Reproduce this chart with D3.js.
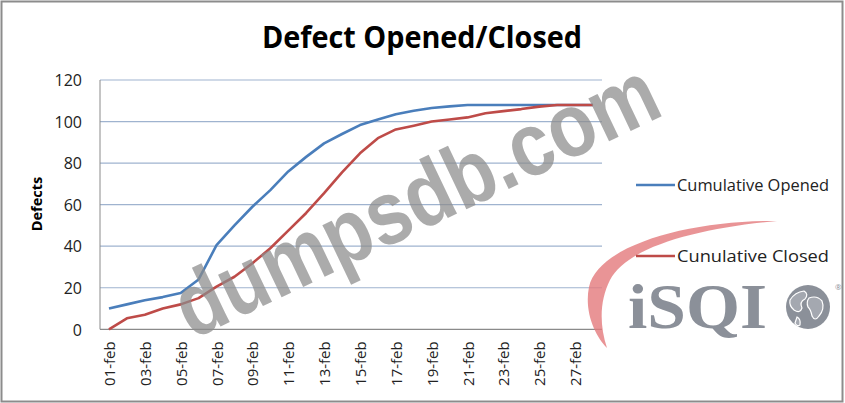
<!DOCTYPE html>
<html><head><meta charset="utf-8">
<script src="https://cdn.jsdelivr.net/npm/d3@7/dist/d3.min.js"></script>
<style>body{margin:0;background:#fff}svg{display:block}</style>
</head><body>
<svg id="c" width="845" height="403"></svg>
<script>
const categories = ["01-feb","02-feb","03-feb","04-feb","05-feb","06-feb","07-feb","08-feb","09-feb","10-feb","11-feb","12-feb","13-feb","14-feb","15-feb","16-feb","17-feb","18-feb","19-feb","20-feb","21-feb","22-feb","23-feb","24-feb","25-feb","26-feb","27-feb","28-feb"];
const opened = [10,12,14,15.5,17.5,24,40.5,50,59,67,76,83,89.5,94,98.3,101,103.5,105.2,106.5,107.3,108,108,108,108,108,108,108,108];
const closed = [0,5.3,7,10,12,15,20.5,25.3,31.8,39,47.5,56,65.5,75.5,84.7,92,96.2,98,100,101,102,104,105,106,107.2,108,108,108];
const yTicks = [0,20,40,60,80,100,120];
const seriesNames = ["Cumulative Opened","Cunulative Closed"];
const colors = ["#4A7EBB","#BE4B48"];

const svg = d3.select("#c");
const font = "'Open Sans', sans-serif";
// outer border
svg.append("rect").attr("x",1.5).attr("y",1.5).attr("width",841).attr("height",400)
  .attr("fill","#fff").attr("stroke","#8c8c8c").attr("stroke-width",2);

const L=100,R=602,T=80,B=329.3;
const x = d3.scaleBand().domain(categories).range([L,R]);
const y = d3.scaleLinear().domain([0,120]).range([B,T]);

// gridlines
svg.append("g").selectAll("line").data(yTicks.filter(d=>d>0)).join("line")
  .attr("x1",L).attr("x2",R).attr("y1",d=>y(d)).attr("y2",d=>y(d))
  .attr("stroke","#9fb3cf").attr("stroke-width",1.2);
// axes lines
svg.append("line").attr("x1",L).attr("x2",L).attr("y1",T).attr("y2",B).attr("stroke","#8a8a8a");
svg.append("line").attr("x1",L).attr("x2",R).attr("y1",B).attr("y2",B).attr("stroke","#8a8a8a").attr("stroke-width",1.2);

// y labels
const yAxis = d3.axisLeft(y).tickValues(yTicks).tickSize(0).tickPadding(0);
const gy = svg.append("g").attr("transform",`translate(${L-18},0)`).call(yAxis);
gy.select(".domain").remove();
gy.selectAll("text").attr("font-family",font).attr("font-size",16).attr("fill","#222").attr("dy","0.36em")
  .attr("transform","scale(1,1)");

// x labels
const xLabelCats = categories.filter((d,i)=>i%2===0);
const gx = svg.append("g").attr("transform",`translate(0,${B})`)
  .call(d3.axisBottom(x).tickValues(xLabelCats).tickSize(0).tickPadding(0));
gx.select(".domain").remove();
gx.selectAll("text").attr("font-family",font).attr("font-size",15).attr("fill","#222")
  .attr("text-anchor","end").attr("dy",null)
  .attr("transform","translate(0,12) rotate(-90)").attr("dominant-baseline","central");

// lines
const line = d3.line().x((d,i)=>x(categories[i])+x.bandwidth()/2).y(d=>y(d));
[opened,closed].forEach((s,k)=>{
  svg.append("path").datum(s).attr("d",line).attr("fill","none")
    .attr("stroke",colors[k]).attr("stroke-width",2.6).attr("stroke-linejoin","round");
});

// title
svg.append("text").attr("x",422).attr("y",48).attr("text-anchor","middle")
  .attr("font-family",font).attr("font-weight","bold").attr("font-size",30)
  .attr("textLength",320).attr("lengthAdjust","spacingAndGlyphs").attr("fill","#000")
  .text("Defect Opened/Closed");
// y title
svg.append("text").attr("transform","translate(42,204) rotate(-90)").attr("text-anchor","middle")
  .attr("font-family",font).attr("font-weight","bold").attr("font-size",14.5).attr("fill","#000")
  .text("Defects");

// iSQI logo watermark (decorative)
const logo = svg.append("g");
logo.append("path")
  .attr("d","M777,221 C690,220 598,245 589,287 C584,312 595,336 607,348 C599,324 600,300 610,280 C628,246 700,228 777,221 Z")
  .attr("fill","#e3797c").attr("opacity",0.8);
logo.append("text").attr("x",628).attr("y",328).attr("font-family","'Liberation Serif', serif")
  .attr("font-weight","bold").attr("font-size",64).attr("textLength",139).attr("lengthAdjust","spacingAndGlyphs")
  .attr("fill","#8b9099").text("iSQI");
logo.append("circle").attr("cx",808).attr("cy",307).attr("r",22).attr("fill","#8b9099");
logo.append("path").attr("d","M790,300 q5,-8 14,-9 q5,3 1,8 q-6,3 -3,9 q-2,6 -8,2 q-5,-4 -4,-10 Z M809,298 q8,-3 13,3 q3,8 -3,15 q-4,6 -7,0 q-1,-6 -4,-9 q-2,-5 1,-9 Z M797,317 q4,2 3,8 q-3,2 -5,-2 Z")
  .attr("fill","#a4a8b0").attr("stroke","#fff").attr("stroke-width",1.2);
logo.append("text").attr("x",835).attr("y",290).attr("font-family",font).attr("font-size",8).attr("fill","#8b9099").text("®");

// legend
const lg = svg.append("g");
seriesNames.forEach((n,k)=>{
  const ly = [185,256][k];
  lg.append("line").attr("x1",636).attr("x2",675).attr("y1",ly).attr("y2",ly)
    .attr("stroke",colors[k]).attr("stroke-width",2.6);
  lg.append("text").attr("x",677).attr("y",ly).attr("dy","0.36em")
    .attr("font-family",font).attr("font-size",16.5).attr("fill","#222")
    .attr("textLength",152).attr("lengthAdjust","spacingAndGlyphs").text(n);
});

// dumpsdb watermark
svg.append("text").attr("transform","translate(192,340) rotate(-25.5)")
  .attr("font-family","'Liberation Sans', Arial, sans-serif").attr("font-weight","bold")
  .attr("font-size",90).attr("fill","#8c8c8c").attr("opacity",0.72)
  .attr("textLength",525).attr("lengthAdjust","spacingAndGlyphs").text("dumpsdb.com");
</script>
</body></html>
